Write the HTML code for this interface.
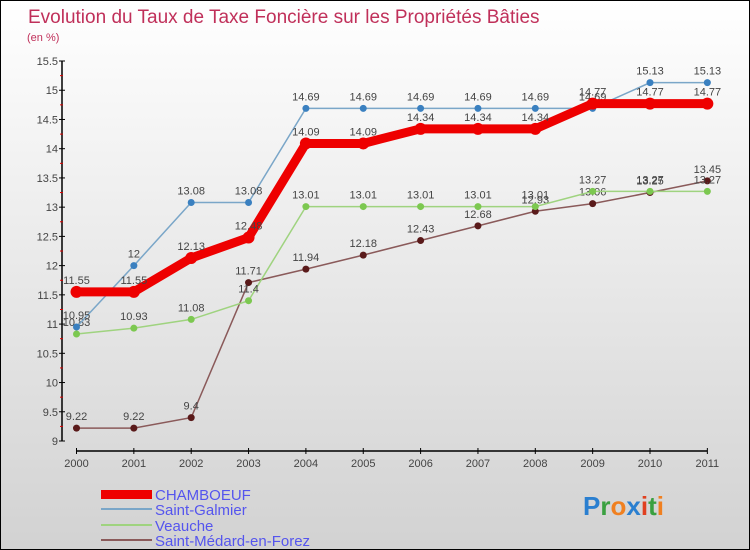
<!DOCTYPE html>
<html><head><meta charset="utf-8"><style>
body{margin:0}
#c{width:750px;height:550px;position:relative;box-sizing:border-box;border:1px solid #000;background:linear-gradient(#fff,#d2d2d2);font-family:"Liberation Sans",sans-serif;overflow:hidden}
</style></head><body>
<div id="c">
<svg width="750" height="550" style="position:absolute;left:0;top:0" id="svg">
<text x="27" y="22" font-size="19" fill="#c0305a">Evolution du Taux de Taxe Foncière sur les Propriétés Bâties</text>
<text x="26" y="40" font-size="11" fill="#c0305a">(en %)</text>
<g id="axes"></g><g id="series"></g>
<g>
<rect x="100" y="489" width="51" height="9" fill="#e00"/>
<text x="154" y="499" font-size="15" fill="#5555ee">CHAMBOEUF</text>
<rect x="100" y="507" width="51" height="2" fill="#7aa6c8"/>
<text x="154" y="514" font-size="15" fill="#5555ee">Saint-Galmier</text>
<rect x="100" y="523" width="51" height="2" fill="#9fd37f"/>
<text x="154" y="530" font-size="15" fill="#5555ee">Veauche</text>
<rect x="100" y="538" width="51" height="2" fill="#8a5a5a"/>
<text x="154" y="545" font-size="15" fill="#5555ee">Saint-Médard-en-Forez</text>
</g>
<text x="582" y="514" font-size="26" font-weight="bold"><tspan fill="#2a7fd0">P</tspan><tspan fill="#3aa040">r</tspan><tspan fill="#f08020">o</tspan><tspan fill="#2a7fd0">x</tspan><tspan fill="#e04020">i</tspan><tspan fill="#3aa040">t</tspan><tspan fill="#f08020">i</tspan></text>
</svg>
</div>
<script>
const years=[2000,2001,2002,2003,2004,2005,2006,2007,2008,2009,2010,2011];
const yTicks=[9,9.5,10,10.5,11,11.5,12,12.5,13,13.5,14,14.5,15,15.5];
const chamboeuf=[11.55,11.55,12.13,12.48,14.09,14.09,14.34,14.34,14.34,14.77,14.77,14.77];
const galmier=[10.95,12,13.08,13.08,14.69,14.69,14.69,14.69,14.69,14.69,15.13,15.13];
const veauche=[10.83,10.93,11.08,11.4,13.01,13.01,13.01,13.01,13.01,13.27,13.27,13.27];
const medard=[9.22,9.22,9.4,11.71,11.94,12.18,12.43,12.68,12.93,13.06,13.25,13.45];
const NS="http://www.w3.org/2000/svg";
const xS=i=>75.5+i*57.35;
const yS=v=>440-(v-9)*58.46;
function mk(t,a,p){const e=document.createElementNS(NS,t);for(const k in a)e.setAttribute(k,a[k]);p.appendChild(e);return e;}
const ax=document.getElementById('axes');
let l=mk('line',{x1:61,y1:yS(15.5),x2:61,y2:440,stroke:'#000','stroke-width':1.5},ax);


l=mk('line',{x1:xS(0),y1:450,x2:xS(11),y2:450,stroke:'#000','stroke-width':1.5},ax);


yTicks.forEach((v,i)=>{
 const y=yS(v);
 mk('line',{x1:58,y1:y,x2:64,y2:y,stroke:'#000'},ax);
 if(i<yTicks.length-1)mk('line',{x1:59,y1:y-14.6,x2:62,y2:y-14.6,stroke:'#d00'},ax);
 const t=mk('text',{x:57,y:y+4,'font-size':11,fill:'#444','text-anchor':'end'},ax);
 t.textContent=String(v);
 
 
});
years.forEach((yr,i)=>{
 const x=xS(i);
 mk('line',{x1:x,y1:447,x2:x,y2:453,stroke:'#000'},ax);
 const t=mk('text',{x:x,y:466,'font-size':11,fill:'#444','text-anchor':'middle'},ax);
 t.textContent=yr;
 
 
});
const sg=document.getElementById('series');
function series(vals,color,w,dot,name,r){
 const g=mk('g',{},sg);
 
 
 const p=mk('polyline',{points:vals.map((v,i)=>xS(i)+','+yS(v)).join(' '),fill:'none',stroke:color,'stroke-width':w},g);
 
 
 vals.forEach((v,i)=>{
  const c=mk('circle',{cx:xS(i),cy:yS(v),r:r,fill:dot},g);
  
  
  const t=mk('text',{x:xS(i),y:yS(v)-8,'font-size':11,fill:'#444','text-anchor':'middle'},g);
  t.textContent=String(v);
  
  
 });
}
series(medard,'#8a5a5a',1.5,'#5a1a1a','saint-medard',3.5);
series(veauche,'#9fd37f',1.5,'#7cc850','veauche',3.5);
series(galmier,'#7aa6c8',1.5,'#3a80c0','saint-galmier',3.5);
series(chamboeuf,'#e00',9,'#e00','chamboeuf',6);
</script>
</body></html>
